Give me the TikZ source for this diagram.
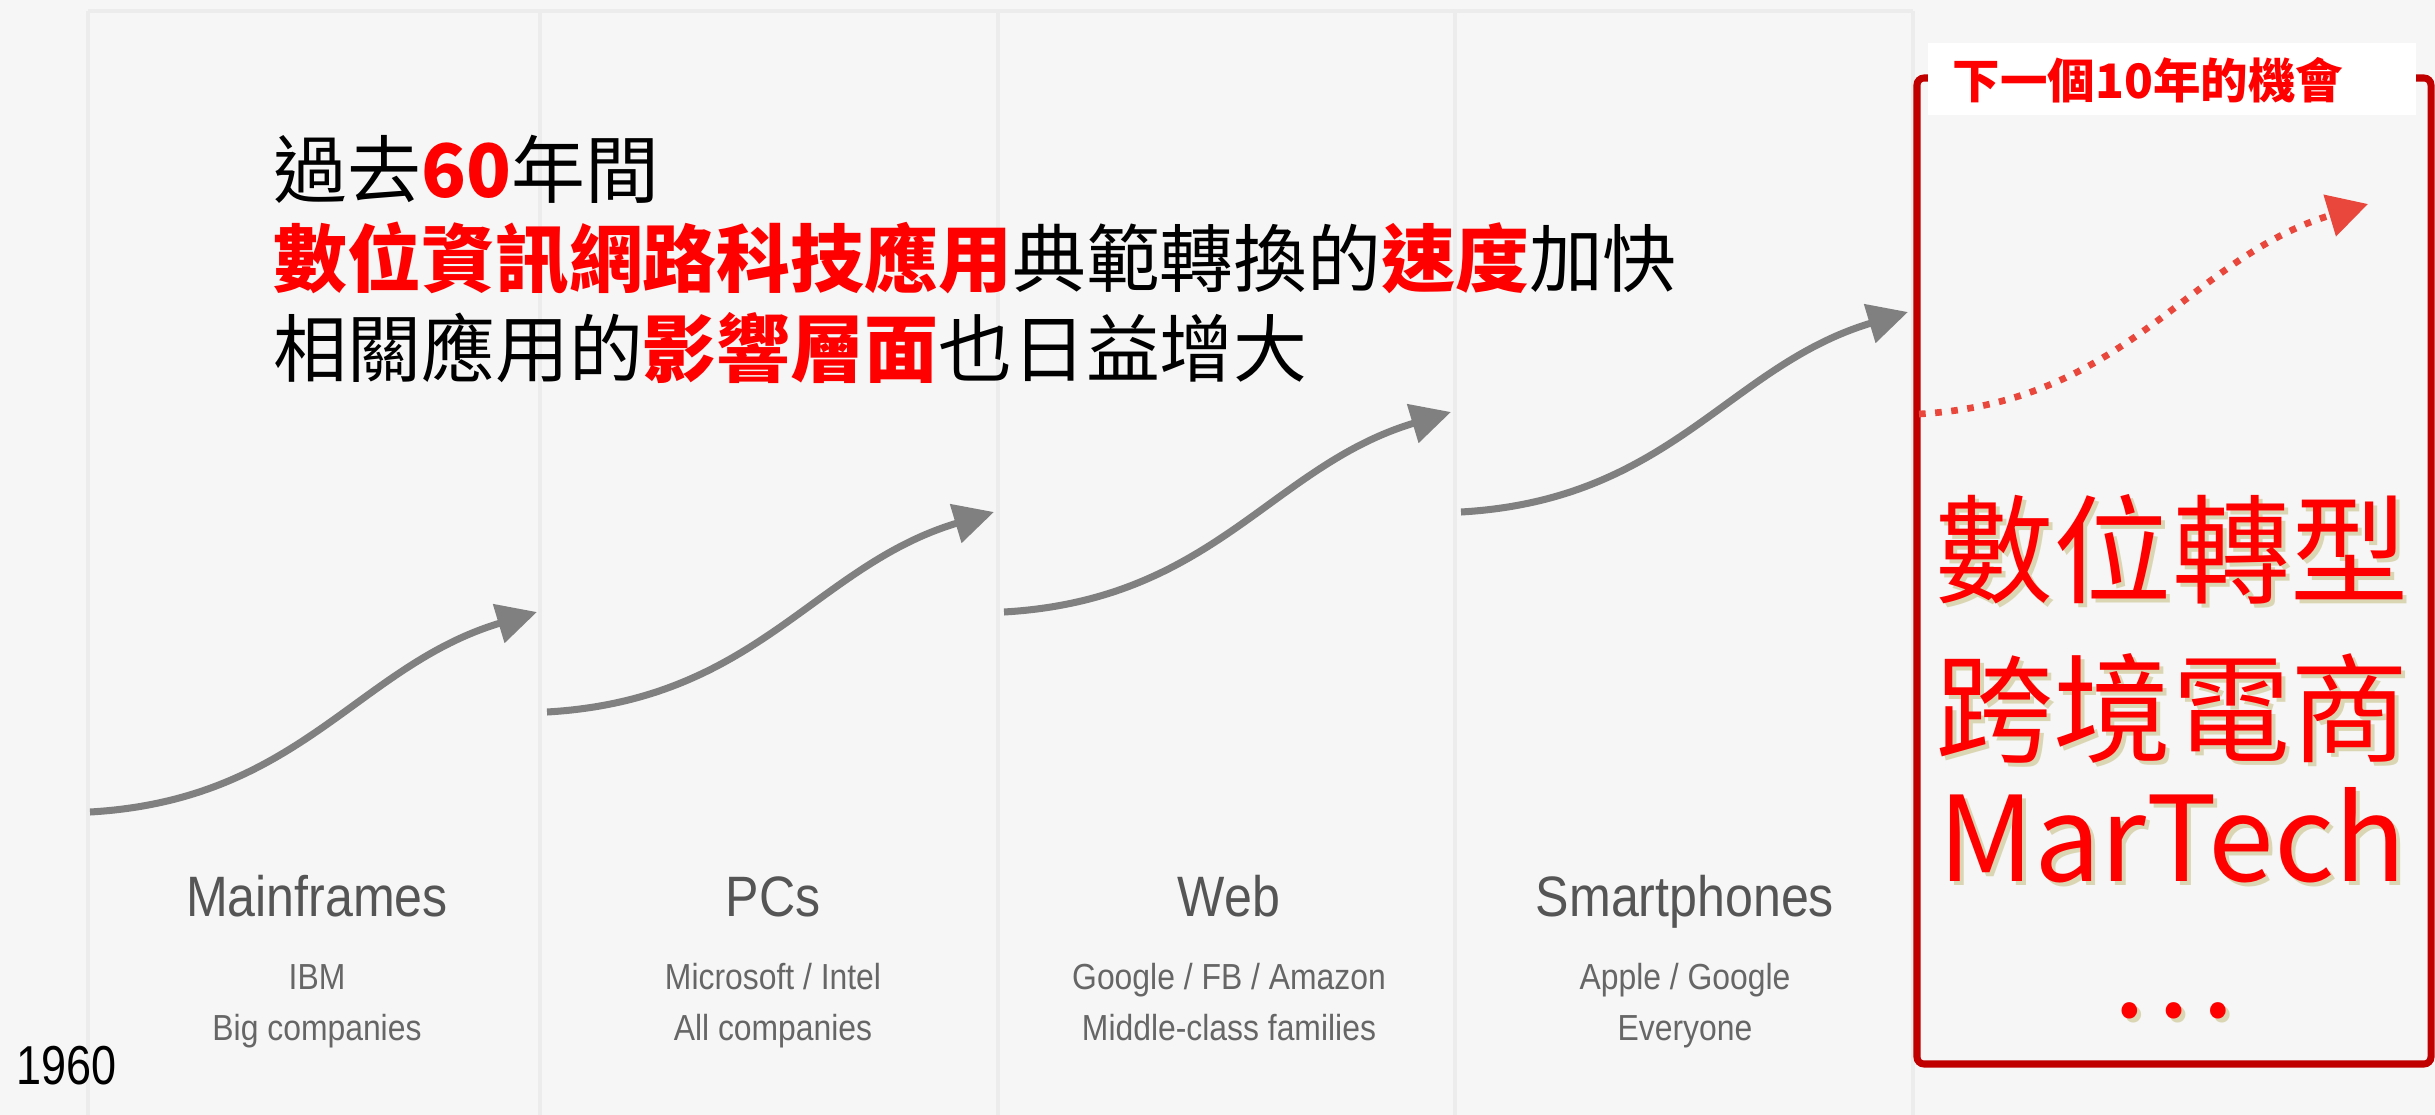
\documentclass[tikz,border=0pt]{standalone}
\usepackage{fontspec}
\setmainfont{Liberation Sans}
\newfontfamily\cjk{Noto Sans CJK TC}
\newfontfamily\labelfont[FakeStretch=0.88]{Liberation Sans}
\newfontfamily\yearfont[FakeStretch=0.82]{Liberation Sans}
\usetikzlibrary{arrows.meta}
\definecolor{bg}{HTML}{F6F6F6}
\definecolor{rulegray}{HTML}{ECECEC}
\definecolor{wavegray}{HTML}{808080}
\definecolor{titlegray}{HTML}{555555}
\definecolor{notegray}{HTML}{666666}
\definecolor{boxred}{HTML}{C00000}
\definecolor{dotred}{HTML}{E9473C}
\definecolor{shade}{HTML}{DAD6B4}
\newcommand{\redbf}[1]{\textcolor{red}{\bfseries #1}}
\begin{document}
\begin{tikzpicture}[x=0.01cm,y=-0.01cm,
    colrule/.style={rulegray,line width=1.2pt},
    scurve/.style={wavegray,line width=2pt,-{Triangle[length=0.4cm,width=0.39cm]}},
    dotcurve/.style={dotred,line width=1.9pt,dash pattern=on 1.9pt off 2.7pt,-{Triangle[length=0.4cm,width=0.42cm]}},
    bodytext/.style={anchor=west,inner sep=0pt,font=\cjk\fontsize{21}{25}\selectfont},
    coltitle/.style={anchor=base,inner sep=0pt,text=titlegray,font=\labelfont\fontsize{16.2}{19}\selectfont},
    colnote/.style={anchor=base,inner sep=0pt,text=notegray,font=\labelfont\fontsize{10.3}{12}\selectfont},
    bigtext/.style={inner sep=0pt,text=red,font=\cjk\fontsize{33.6}{40}\selectfont},
    bigshadow/.style={bigtext,text=shade}]
    \useasboundingbox (0,0) rectangle (2435,1115);
    \fill[bg] (0,0) rectangle (2435,1115);
    % columns
    \draw[colrule] (88,11) -- (1913,11);
    \foreach \x in {88,540,998,1455,1913}
    \draw[colrule] (\x,11) -- (\x,1115);
    % the four waves
    \foreach \i in {0,...,3}
    {
        \coordinate (s\i) at (90+457*\i,812-100*\i);
        \coordinate (e\i) at (537+457*\i,612-100*\i);
        \draw[scurve] (s\i) .. controls +(210,-12) and +(-180,54) .. (e\i);
    }
    \foreach \i/\a/\b/\c in {0/Mainframes/IBM/Big companies,
        1/PCs/{Microsoft / Intel}/All companies,
        2/Web/{Google / FB / Amazon}/Middle-class families,
        3/Smartphones/{Apple / Google}/Everyone}
    {
        \node[coltitle] (title\i) at (317+456*\i,916) {\a};
        \node[colnote] (who\i) at (317+456*\i,989) {\b};
        \node[colnote] (whom\i) at (317+456*\i,1040) {\c};
    }
    \node[anchor=base west,inner sep=0pt,font=\yearfont\fontsize{15.6}{18}\selectfont] (year) at (16,1084) {1960};
    % headline
    \node[bodytext] (line1) at (273,169) {過去\redbf{60}年間};
    \node[bodytext] (line2) at (273,259) {\redbf{數位資訊網路科技應用}典範轉換的\redbf{速度}加快};
    \node[bodytext] (line3) at (273,348) {相關應用的\redbf{影響層面}也日益增大};
    % next ten years
    \draw[boxred,line width=2pt,rounded corners=2pt] (1917,78) rectangle (2431,1064);
    \fill[white] (1928,43) rectangle (2416,115);
    \node[inner sep=0pt,text=red,font=\cjk\bfseries\fontsize{13.5}{16}\selectfont] (next) at (2148,80) {下一個10年的機會};
    \coordinate (rs) at (1919,414);
    \coordinate (re) at (2368,204);
    \draw[dotcurve] (rs) .. controls +(210,-12) and +(-180,54) .. (re);
    \foreach \n/\y/\t in {a/549/數位轉型,b/708/跨境電商,c/835/MarTech,d/1011/…}
    {
        \node[bigshadow] at (2176,\y+4) {\t};
        \node[bigtext] (big\n) at (2172,\y) {\t};
    }
\end{tikzpicture}
\end{document}
